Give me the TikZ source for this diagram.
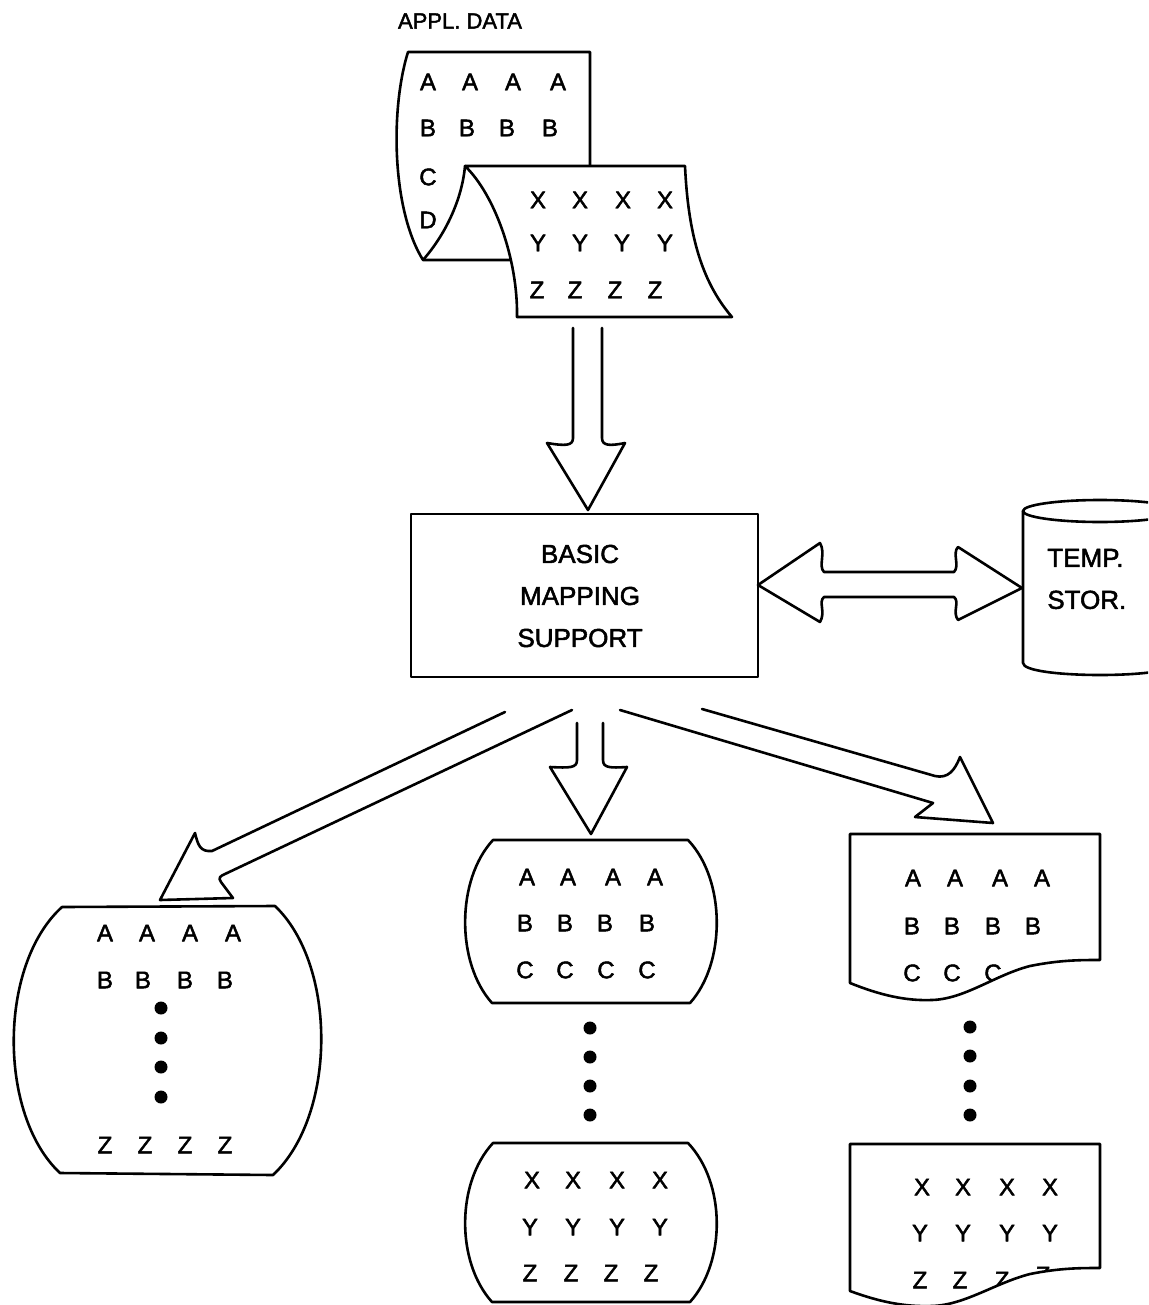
\documentclass[tikz,border=0pt]{standalone}
\usepackage{fontspec}
\setmainfont{Liberation Sans}[FakeBold=2]
\begin{document}
\begin{tikzpicture}[x=1pt,y=-1pt,line width=2.6pt,line join=round,line cap=round,
  lt/.style={font=\fontsize{24}{28}\selectfont,inner sep=0pt},
  big/.style={font=\fontsize{26}{42}\selectfont,inner sep=0pt},
  dotmark/.style={fill=black,circle,minimum size=13pt,inner sep=0pt},
  shp/.style={draw=black,fill=white}]
\useasboundingbox (0,0) rectangle (1148,1305);
\clip (0,0) rectangle (1148,1305);

% ---------- application data (curled sheets) ----------
\node[lt,font=\fontsize{22}{26}\selectfont] (appl) at (460,21) {APPL. DATA};
\draw[shp] (408,52) -- (590,52) -- (590,260) -- (423,260)
  .. controls (392,210) and (390,110) .. (408,52) -- cycle;
\foreach \x [count=\i] in {428,470,513,558} \node[lt] (sa\i) at (\x,82) {A};
\foreach \x [count=\i] in {428,467,507,550} \node[lt] (sb\i) at (\x,128) {B};
\node[lt] (sc1) at (428,177) {C};
\node[lt] (sd1) at (428,220) {D};
\draw[shp] (465,166) -- (685,166) .. controls (688,230) and (700,280) .. (732,317)
  -- (517,317) .. controls (518,260) and (495,195) .. (465,166) -- cycle;
\draw (423,260) .. controls (445,235) and (462,200) .. (465,166);
\foreach \x [count=\i] in {538,580,623,665} \node[lt] (sx\i) at (\x,200) {X};
\foreach \x [count=\i] in {538,580,622,665} \node[lt] (sy\i) at (\x,243) {Y};
\foreach \x [count=\i] in {537,575,615,655} \node[lt] (sz\i) at (\x,290) {Z};

% ---------- arrow data -> BMS ----------
\draw[fill=white] (573,328) -- (573,438) .. controls (573,446) and (565,446) .. (547,443)
  -- (588,510) -- (625,443) .. controls (610,446) and (602,446) .. (602,438) -- (602,328);

% ---------- BMS box ----------
\node[draw,minimum width=347pt,minimum height=163pt,inner sep=0pt] (bms) at (584.5,595.5) {};
\node[big,align=center] (bmstext) at (580,596) {BASIC\\MAPPING\\SUPPORT};

% ---------- temp storage cylinder ----------
\draw[shp] (1023,511) -- (1023,663) .. controls (1023,679) and (1177,679) .. (1177,663) -- (1177,511);
\draw[shp] (1100,511) ellipse [x radius=77pt,y radius=11pt];
\node[big,align=left,anchor=west] (ts) at (1046,579) {TEMP.\\STOR.};

% ---------- double arrow ----------
\draw[fill=white] (758,585) -- (820,543) .. controls (826,553) and (818,566) .. (824,572)
  -- (954,572) .. controls (960,566) and (952,553) .. (958,547) -- (1022,588)
  -- (958,620) .. controls (952,612) and (960,602) .. (954,597)
  -- (824,597) .. controls (818,602) and (826,612) .. (820,622) -- cycle;

% ---------- arrows out of BMS ----------
\draw (505,712) -- (212,851) .. controls (200,852) and (198,845) .. (195,833)
  -- (160,900) -- (233,898) -- (221,882) .. controls (218,878) and (220,876) .. (225,874)
  -- (572,710);
\draw (577,723) -- (577,760) .. controls (577,768) and (570,768) .. (550,767)
  -- (591,834) -- (627,767) .. controls (610,768) and (603,768) .. (603,760) -- (603,723);
\draw (702,709) -- (935,776) .. controls (948,779) and (955,770) .. (960,757)
  -- (993,823) -- (915,817) -- (933,803) -- (620,710);

% ---------- left display ----------
\draw (62,907) -- (275,906) .. controls (337,965) and (337,1115) .. (273,1175)
  -- (60,1173) .. controls (-2,1115) and (-2,965) .. (62,907) -- cycle;
\foreach \x [count=\i] in {105,147,190,233} \node[lt] (la\i) at (\x,933) {A};
\foreach \x [count=\i] in {105,143,185,225} \node[lt] (lb\i) at (\x,980) {B};
\foreach \y [count=\i] in {1008,1038,1067,1097} \node[dotmark] (ld\i) at (161,\y) {};
\foreach \x [count=\i] in {105,145,185,225} \node[lt] (lz\i) at (\x,1145) {Z};

% ---------- middle displays ----------
\draw (493,840) -- (688,840) .. controls (726,880) and (726,963) .. (690,1003)
  -- (492,1003) .. controls (456,963) and (456,880) .. (493,840) -- cycle;
\foreach \x [count=\i] in {527,568,613,655} \node[lt] (ma\i) at (\x,877) {A};
\foreach \x [count=\i] in {525,565,605,647} \node[lt] (mb\i) at (\x,923) {B};
\foreach \x [count=\i] in {525,565,606,647} \node[lt] (mc\i) at (\x,970) {C};
\foreach \y [count=\i] in {1028,1057,1086,1115} \node[dotmark] (md\i) at (590,\y) {};
\draw (493,1143) -- (688,1143) .. controls (726,1183) and (726,1262) .. (690,1302)
  -- (492,1302) .. controls (456,1262) and (456,1183) .. (493,1143) -- cycle;
\foreach \x [count=\i] in {532,573,617,660} \node[lt] (mx\i) at (\x,1180) {X};
\foreach \x [count=\i] in {530,573,617,660} \node[lt] (my\i) at (\x,1227) {Y};
\foreach \x [count=\i] in {530,571,611,651} \node[lt] (mz\i) at (\x,1273) {Z};

% ---------- right documents ----------
\foreach \x [count=\i] in {913,955,1000,1042} \node[lt] (ra\i) at (\x,878) {A};
\foreach \x [count=\i] in {912,952,993,1033} \node[lt] (rb\i) at (\x,926) {B};
\foreach \x [count=\i] in {912,952,993} \node[lt] (rc\i) at (\x,973) {C};
\fill[white] (1100,960) .. controls (1080,960) and (1060,960) .. (1030,966)
  .. controls (995,975) and (965,999) .. (932,1000) .. controls (905,1001) and (880,995) .. (850,983)
  -- (850,1006) -- (1100,1006) -- cycle;
\draw (850,834) -- (1100,834) -- (1100,960) .. controls (1080,960) and (1060,960) .. (1030,966)
  .. controls (995,975) and (965,999) .. (932,1000) .. controls (905,1001) and (880,995) .. (850,983) -- cycle;
\foreach \y [count=\i] in {1027,1056,1086,1115} \node[dotmark] (rd\i) at (970,\y) {};

\foreach \x [count=\i] in {922,963,1007,1050} \node[lt] (rx\i) at (\x,1187) {X};
\foreach \x [count=\i] in {920,963,1007,1050} \node[lt] (ry\i) at (\x,1233) {Y};
\foreach \x [count=\i] in {920,960,1002} \node[lt] (rz\i) at (\x,1280) {Z};
\node[lt] (rz4) at (1043,1275) {Z};
\fill[white] (1100,1268) .. controls (1080,1268) and (1060,1268) .. (1030,1274)
  .. controls (995,1283) and (965,1305) .. (932,1306) .. controls (905,1307) and (880,1302) .. (850,1291)
  -- (850,1320) -- (1100,1320) -- cycle;
\draw (850,1144) -- (1100,1144) -- (1100,1268) .. controls (1080,1268) and (1060,1268) .. (1030,1274)
  .. controls (995,1283) and (965,1305) .. (932,1306) .. controls (905,1307) and (880,1302) .. (850,1291) -- cycle;
\end{tikzpicture}
\end{document}
